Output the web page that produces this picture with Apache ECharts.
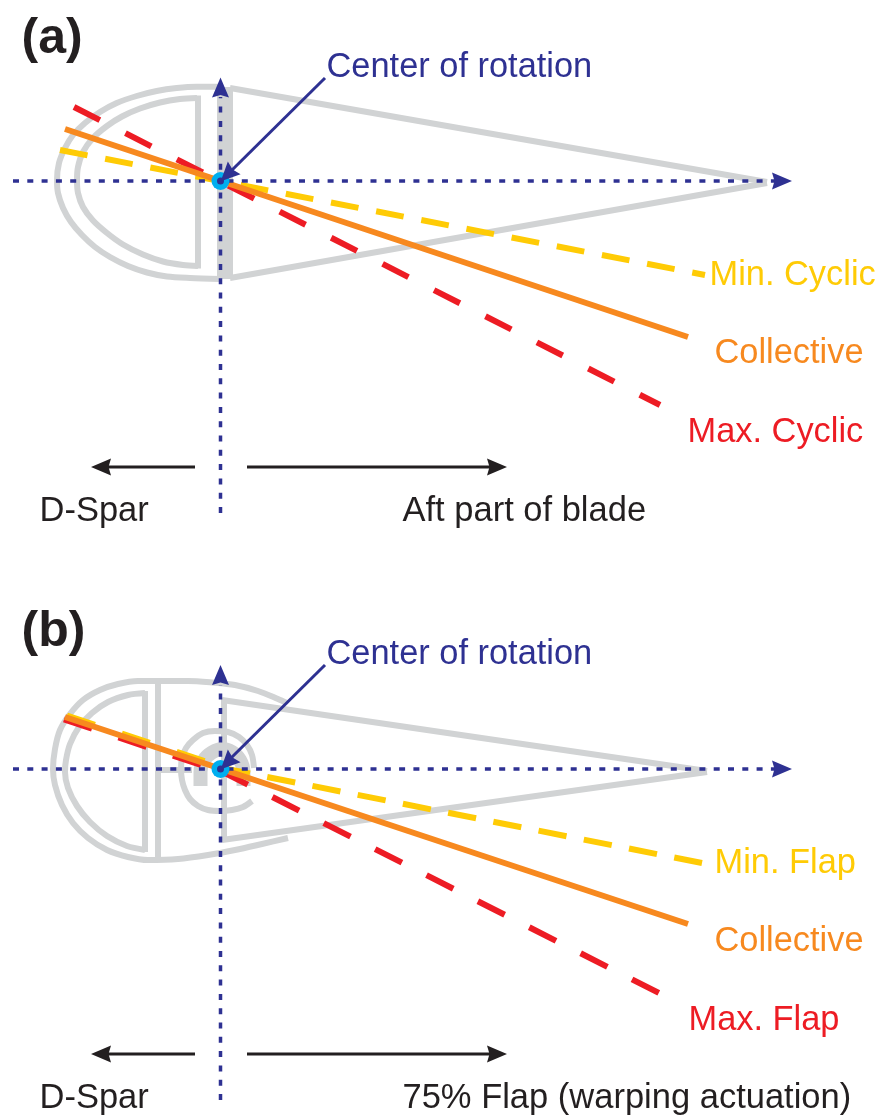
<!DOCTYPE html>
<html>
<head>
<meta charset="utf-8">
<title>Blade twist diagram</title>
<style>
  html, body { margin: 0; padding: 0; background: #fff; }
  #chart { width: 884px; height: 1118px; }
</style>
<script src="https://cdn.jsdelivr.net/npm/echarts@6/dist/echarts.min.js"></script>
</head>
<body>
<div id="chart"></div>
<script>
// everything is read off the picture, x / y in picture units
// panel (a) blade outline
const aOuter = [[220,86.7],[196.7,86.7],[176.7,88],[156.7,91],[136.7,96],[116.7,103],[100,112],[85,123],[73,135],[65,148],[59,163],[57,180],[58,193],[63,208],[71,222],[82,235],[95,247],[110,257],[128,266],[147,272.5],[167,276.5],[190,278],[220,279]];
const aInner = [[197,98],[180,99],[160,102.5],[140,108.5],[122,116.5],[107,126],[93,138],[83,152],[78,167],[77,180],[78,193],[83,207],[93,220.5],[107,233],[123,244.5],[143,254.5],[163,261.5],[183,265],[198,266]];
const aInnerWeb = [[198,95.5],[198,268.5]];
const aSparWeb = [[225,87],[225,279]];
const aTailTop = [[230,88],[767,182]];
const aTailBottom = [[230,278],[767,183]];

// panel (b) blade outline
const bOuter = [[287,703],[278,699],[258,691],[235,685],[212,682.5],[188,681],[158,681],[138,681],[118,684],[100,690],[83,700],[70,714],[60,730],[55,749],[53,769],[55,785],[62,805],[73,823],[88,838],[107,850],[128,857],[148,860],[178,859],[208,855],[235,850],[262,844],[288,838]];
const bInner = [[145,693],[128,695],[108,702],[92,713],[79,727],[70,744],[66,760],[65,772],[68,788],[77,806],[90,822],[107,836],[127,846],[145,850]];
const bInnerWeb = [[145,691],[145,852]];
const bSecondWeb = [[158,681],[158,860]];
const bStub = [[158,770],[192,770]];
const bRing = [[252,801],[243,807],[232,810],[220,811],[208,810],[198,806],[190,799],[185,790],[182,780],[181,769],[182,758],[186,748],[193,740],[203,733],[215,731],[228,732],[239,737],[247,745],[252,755],[254,768]];
const bCap = [[200.5,786],[200.5,772],[204,760],[212,752.5],[222,749],[232,752],[240,760],[243.5,772],[243.5,786]];
const bFlapWeb = [[224,698],[224,842]];
const bTailTop = [[222,700],[707,771]];
const bTailBottom = [[222,840],[707,772]];

// twist lines
const aCollective = [[65,129],[688,337]];
const aMinCyclic = [[60,150],[705,275]];
const aMaxCyclic = [[74,107],[660,405]];
const bCollective = [[65,717],[688,924]];
const bMinFlapLeft = [[67,715.5],[220,766.3]];
const bMinFlapRight = [[222,768],[702,863]];
const bMaxFlapLeft = [[64,719.4],[220,771.2]];
const bMaxFlapRight = [[221,771],[659,993]];

// axes and arrows
const axisH = [[[13,181],[775,181]], [[13,769],[775,769]]];
const axisV = [[[220.5,513],[220.5,97]], [[220.5,1100],[220.5,685]]];
const pointerLines = [[[325,78],[228,174]], [[325,665],[228,761]]];
const blackLines = [[[195,467],[105,467]], [[247,467],[492,467]], [[195,1054],[105,1054]], [[247,1054],[492,1054]]];
const rotationCenters = [[220.5,181],[220.5,769]];
const arrowsRight = [[782,181],[782,769]];
const arrowsUp = [[220.5,87.5],[220.5,675]];
const arrowsPointer = [[227.5,174.5],[227.5,762.5]];
const blackArrowsLeft = [[101,467],[101,1054]];
const blackArrowsRight = [[497,467],[497,1054]];

// texts
const panelTexts = ['(a)', '(b)'];
const panelTextPos = [[21,36],[21,629]];
const blueTexts = ['Center of rotation', 'Center of rotation'];
const blueTextPos = [[326,65],[326,652]];
const yellowTexts = ['Min. Cyclic', 'Min. Flap'];
const yellowTextPos = [[709,273],[714,861]];
const orangeTexts = ['Collective', 'Collective'];
const orangeTextPos = [[714,351],[714,939]];
const redTexts = ['Max. Cyclic', 'Max. Flap'];
const redTextPos = [[687,430],[688,1018]];
const blackTexts = ['D-Spar', 'Aft part of blade', 'D-Spar', '75% Flap (warping actuation)'];
const blackTextPos = [[39,508],[402,508],[39,1095],[402,1095]];

const GREY = '#d1d3d4', BLUE = '#2e3192', BLACK = '#231f20';
const YELLOW = '#ffcb05', ORANGE = '#f7891f', RED = '#ed1c24', CYAN = '#00aeef';
const ARROW = 'path://M10 0L20 24L10 21L0 24Z';

function line(points, color, width, type, smooth) {
  return {
    type: 'line',
    data: points,
    symbol: 'none',
    smooth: smooth ? 0.3 : false,
    silent: true,
    z: 2,
    lineStyle: { color: color, width: width, opacity: 1, type: type || 'solid', cap: 'butt', join: 'round' }
  };
}

function marks(points, symbol, size, color, rotate) {
  return {
    type: 'scatter',
    data: points,
    symbol: symbol,
    symbolSize: size,
    symbolRotate: rotate || 0,
    silent: true,
    z: 4,
    itemStyle: { color: color, opacity: 1 }
  };
}

function texts(names, positions, color, size, weight) {
  return {
    type: 'scatter',
    symbolSize: 1,
    silent: true,
    z: 5,
    itemStyle: { color: 'transparent', opacity: 1 },
    data: names.map((name, i) => ({ name: name, value: positions[i] })),
    label: {
      show: true,
      position: 'right',
      distance: 0,
      offset: [0, 3],
      formatter: '{b}',
      color: color,
      opacity: 1,
      fontSize: size,
      fontWeight: weight || 'normal',
      fontFamily: '"Liberation Sans", Arial, sans-serif'
    }
  };
}

const series = [
  line(aOuter, GREY, 6, null, true),
  line(aInner, GREY, 6, null, true),
  line(aInnerWeb, GREY, 6),
  line(aSparWeb, GREY, 16),
  line(aTailTop, GREY, 6),
  line(aTailBottom, GREY, 6),
  line(bOuter, GREY, 6, null, true),
  line(bInner, GREY, 6, null, true),
  line(bInnerWeb, GREY, 6),
  line(bSecondWeb, GREY, 6),
  line(bStub, GREY, 6),
  line(bRing, GREY, 6, null, true),
  line(bCap, GREY, 14, null, true),
  line(bFlapWeb, GREY, 6),
  line(bTailTop, GREY, 6),
  line(bTailBottom, GREY, 6),

  line(aMaxCyclic, RED, 6, [29, 28.7]),
  line(aMinCyclic, YELLOW, 6, [28, 18]),
  line(bMaxFlapLeft, RED, 6, [29.5, 27.9]),
  line(bMaxFlapRight, RED, 6, [30, 27.6]),
  line(bMinFlapLeft, YELLOW, 6, [29.4, 28.35]),
  line(bMinFlapRight, YELLOW, 6, [28.5, 17.6]),
  line(aCollective, ORANGE, 6),
  line(bCollective, ORANGE, 6)
];

axisH.concat(axisV).forEach(p => series.push(line(p, BLUE, 3.5, [6, 8.3])));
pointerLines.forEach(p => series.push(line(p, BLUE, 3)));
blackLines.forEach(p => series.push(line(p, BLACK, 3)));

series.push(
  marks(rotationCenters, 'circle', 18, CYAN),
  Object.assign(marks(rotationCenters, 'circle', 7, BLUE), { z: 5 }),
  marks(arrowsRight, ARROW, [17, 20], BLUE, -90),
  marks(arrowsUp, ARROW, [17, 20], BLUE, 0),
  Object.assign(marks(arrowsPointer, ARROW, [18, 19], BLUE, 135), { z: 6 }),
  marks(blackArrowsLeft, ARROW, [17, 20], BLACK, 90),
  marks(blackArrowsRight, ARROW, [17, 20], BLACK, -90),
  texts(panelTexts, panelTextPos, BLACK, 50, 'bold'),
  texts(blueTexts, blueTextPos, BLUE, 34.4),
  texts(yellowTexts, yellowTextPos, YELLOW, 34.4),
  texts(orangeTexts, orangeTextPos, ORANGE, 34.4),
  texts(redTexts, redTextPos, RED, 34.4),
  texts(blackTexts, blackTextPos, BLACK, 34.5)
);

const myChart = echarts.init(document.getElementById('chart'), null, { renderer: 'canvas' });
myChart.setOption({
  animation: false,
  backgroundColor: '#fff',
  grid: { left: 0, top: 0, right: 0, bottom: 0 },
  xAxis: { type: 'value', min: 0, max: 884, show: false },
  yAxis: { type: 'value', min: 0, max: 1118, inverse: true, show: false },
  series: series
});
</script>
</body>
</html>
